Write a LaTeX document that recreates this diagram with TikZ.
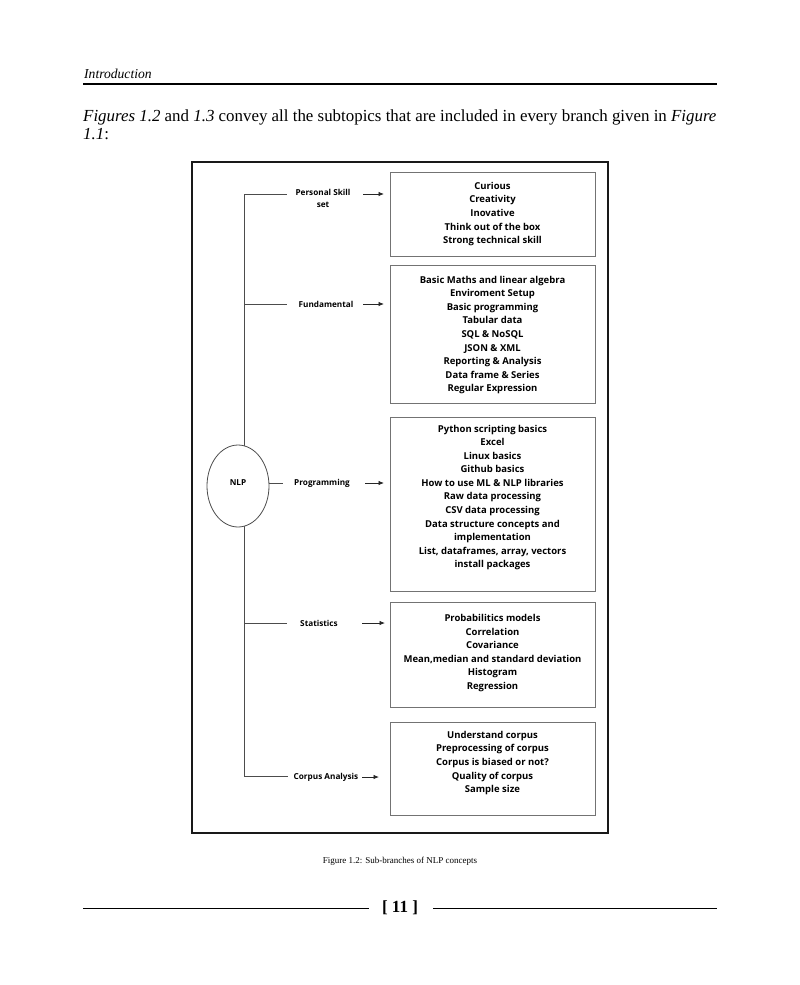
\documentclass[tikz,border=0pt]{standalone}
\usepackage{fontspec}
\setmainfont{Liberation Serif}
\newfontfamily\osans{Open Sans}
\usetikzlibrary{arrows.meta,shapes.geometric}
\begin{document}
\begin{tikzpicture}[x=1pt,y=-1pt,
  box/.style={draw=black!55,line width=0.9pt,minimum width=205pt,inner sep=0pt},
  items/.style={align=center,font=\osans\bfseries\fontsize{9.5}{13.55}\selectfont,inner sep=0pt},
  lab/.style={align=center,font=\osans\bfseries\fontsize{8.2}{12}\selectfont,inner sep=0pt},
  conn/.style={draw=black!70,line width=0.8pt},
  arr/.style={draw=black!85,line width=0.8pt,-{Latex[length=5.5pt,width=4.5pt]}}]
\useasboundingbox (0,0) rectangle (800,985);
% page header
\node[anchor=base west,font=\itshape\fontsize{13.6}{15}\selectfont,inner sep=0pt] (hdr) at (84,78) {Introduction};
\draw[line width=1.4pt] (83,84) coordinate (hl) -- (717,84) coordinate (hr);
\node[anchor=base west,font=\fontsize{16.9}{18}\selectfont,inner sep=0pt] (p1) at (83,121) {\textit{Figures 1.2} and \textit{1.3} convey all the subtopics that are included in every branch given in \textit{Figure}};
\node[anchor=base west,font=\fontsize{16.9}{18}\selectfont,inner sep=0pt] (p2) at (83,139) {\textit{1.1}:};
% frame
\node[draw=black!90,line width=1.8pt,minimum width=416pt,minimum height=671pt,inner sep=0pt] (frame) at (400,497.5) {};
% boxes
\node[box,minimum height=84pt] (b1) at (492.5,214) {};
\node[box,minimum height=138pt] (b2) at (492.5,334) {};
\node[box,minimum height=174pt] (b3) at (492.5,504) {};
\node[box,minimum height=105pt] (b4) at (492.5,654.5) {};
\node[box,minimum height=93pt] (b5) at (492.5,768.5) {};
\node[items] (t1) at (492.5,214) {Curious\\Creativity\\Inovative\\Think out of the box\\Strong technical skill};
\node[items] (t2) at (492.5,335) {Basic Maths and linear algebra\\Enviroment Setup\\Basic programming\\Tabular data\\SQL \& NoSQL\\JSON \& XML\\Reporting \& Analysis\\Data frame \& Series\\Regular Expression};
\node[items] (t3) at (492.5,497.5) {Python scripting basics\\Excel\\Linux basics\\Github basics\\How to use ML \& NLP libraries\\Raw data processing\\CSV data processing\\Data structure concepts and\\implementation\\List, dataframes, array, vectors\\install packages};
\node[items] (t4) at (492.5,653) {Probabilitics models\\Correlation\\Covariance\\Mean,median and standard deviation\\Histogram\\Regression};
\node[items] (t5) at (492.5,763) {Understand corpus\\Preprocessing of corpus\\Corpus is biased or not?\\Quality of corpus\\Sample size};
% trunk
\coordinate (top) at (244,194);
\coordinate (bot) at (244,776.5);
\draw[conn] (top) -- (bot);
\node[draw=black!70,line width=0.8pt,fill=white,ellipse,minimum width=62pt,minimum height=82pt,inner sep=0pt] (nlp) at (238,486) {};
\node[lab] (nlpt) at (238,483) {NLP};
% labels
\node[lab,anchor=north] (l1) at (323,189) {Personal Skill\\set};
\node[lab] (l2) at (326,304) {Fundamental};
\node[lab] (l3) at (322,483) {Programming};
\node[lab] (l4) at (319,623) {Statistics};
\node[lab] (l5) at (326,777) {Corpus Analysis};
% branches
\coordinate (f2) at (244,304);
\coordinate (f4) at (244,623);
\draw[conn] (top) -- (287,194);
\draw[conn] (f2) -- (287,304);
\draw[conn] (nlp.east |- l3) -- (283,483);
\draw[conn] (f4) -- (287,623);
\draw[conn] (bot) -- (288,776.5);
% arrows
\coordinate (a1s) at (363,194); \coordinate (a1e) at (384,194);
\coordinate (a2s) at (363,304); \coordinate (a2e) at (384,304);
\coordinate (a3s) at (365,483); \coordinate (a3e) at (384,483);
\coordinate (a4s) at (362,623); \coordinate (a4e) at (385,623);
\coordinate (a5s) at (362,777); \coordinate (a5e) at (379,777);
\draw[arr] (a1s) -- (a1e);
\draw[arr] (a2s) -- (a2e);
\draw[arr] (a3s) -- (a3e);
\draw[arr] (a4s) -- (a4e);
\draw[arr] (a5s) -- (a5e);
% caption and footer
\node[font=\fontsize{9}{10}\selectfont,inner sep=0pt] (cap) at (400,861) {Figure 1.2: Sub-branches of NLP concepts};
\node[font=\bfseries\fontsize{17}{20}\selectfont,inner sep=0pt] (pg) at (400,908) {[ 11 ]};
\draw[line width=1.3pt] (83,908.5) -- (369,908.5);
\draw[line width=1.3pt] (433,908.5) -- (717,908.5);
\end{tikzpicture}
\end{document}
